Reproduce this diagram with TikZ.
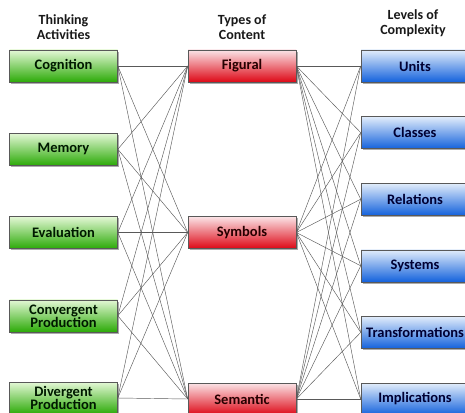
\documentclass[tikz,border=0pt]{standalone}
\usepackage{fontspec}
\setmainfont{Carlito}
\usetikzlibrary{shadows}

\definecolor{actTop}{HTML}{E4F8D6}
\definecolor{actMid}{HTML}{6FD842}
\definecolor{actBot}{HTML}{2CAA08}
\definecolor{conTop}{HTML}{FBE4E7}
\definecolor{conMid}{HTML}{F04A57}
\definecolor{conBot}{HTML}{DD0816}
\definecolor{levTop}{HTML}{E2EDFB}
\definecolor{levMid}{HTML}{5A98F0}
\definecolor{levBot}{HTML}{1462DC}

\begin{document}
\begin{tikzpicture}[
        x=1pt, y=-1pt,
        box/.style={rectangle, draw=black!65, line width=0.6pt, minimum width=108pt, minimum height=32pt,
            inner sep=0pt, align=center, font=\fontsize{14.5}{13}\selectfont\bfseries,
            drop shadow={shadow xshift=1.8pt, shadow yshift=-1.8pt, fill=black!60, opacity=0.55}},
        act/.style={box, top color=actTop, middle color=actMid, bottom color=actBot, text=black!90!green},
        con/.style={box, top color=conTop, middle color=conMid, bottom color=conBot, text=black!85!red},
        lev/.style={box, top color=levTop, middle color=levMid, bottom color=levBot, text=black!80!blue},
        head/.style={align=center, inner sep=0pt, font=\fontsize{14}{15}\selectfont\bfseries, text=black!90},
        edge/.style={draw, line width=0.45pt, black!65},
    ]
    \useasboundingbox (0,0) rectangle (465,412);

    % Headings
    \node[head] (hAct) at (63.5, 27) {Thinking\\Activities};
    \node[head] (hCon) at (242, 27) {Types of\\Content};
    \node[head] (hLev) at (413, 23) {Levels of\\Complexity};

    % === LEFT: thinking activities ===
    \node[act] (cog) at (63.5, 66) {Cognition};
    \node[act] (mem) at (63.5, 149.3) {Memory};
    \node[act] (eva) at (63.5, 232.5) {Evaluation};
    \node[act] (cnv) at (63.5, 315.8) {Convergent\\Production};
    \node[act] (dvg) at (63.5, 398) {Divergent\\Production};

    % === MIDDLE: types of content ===
    \node[con] (fig) at (242, 66) {Figural};
    \node[con] (sym) at (242, 232.5) {Symbols};
    \node[con] (sem) at (242, 399) {Semantic};

    % === RIGHT: levels of complexity ===
    \node[lev] (uni) at (415, 66) {Units};
    \node[lev] (cla) at (415, 132.6) {Classes};
    \node[lev] (rel) at (415, 199.2) {Relations};
    \node[lev] (sys) at (415, 265.8) {Systems};
    \node[lev] (tra) at (415, 332.4) {Transformations};
    \node[lev] (imp) at (415, 399) {Implications};

    % --- activities to content ---
    \draw[edge] (cog.east) -- (fig.west);
    \draw[edge] (cog.east) -- (sym.west);
    \draw[edge] (cog.east) -- (sem.west);
    \draw[edge] (mem.east) -- (fig.west);
    \draw[edge] (mem.east) -- (sym.west);
    \draw[edge] (mem.east) -- (sem.west);
    \draw[edge] (eva.east) -- (fig.west);
    \draw[edge] (eva.east) -- (sym.west);
    \draw[edge] (eva.east) -- (sem.west);
    \draw[edge] (cnv.east) -- (fig.west);
    \draw[edge] (cnv.east) -- (sym.west);
    \draw[edge] (cnv.east) -- (sem.west);
    \draw[edge] (dvg.east) -- (fig.west);
    \draw[edge] (dvg.east) -- (sym.west);
    \draw[edge] (dvg.east) -- (sem.west);

    % --- content to complexity ---
    \draw[edge] (fig.east) -- (uni.west);
    \draw[edge] (fig.east) -- (cla.west);
    \draw[edge] (fig.east) -- (rel.west);
    \draw[edge] (fig.east) -- (sys.west);
    \draw[edge] (fig.east) -- (tra.west);
    \draw[edge] (fig.east) -- (imp.west);
    \draw[edge] (sym.east) -- (uni.west);
    \draw[edge] (sym.east) -- (cla.west);
    \draw[edge] (sym.east) -- (rel.west);
    \draw[edge] (sym.east) -- (sys.west);
    \draw[edge] (sym.east) -- (tra.west);
    \draw[edge] (sym.east) -- (imp.west);
    \draw[edge] (sem.east) -- (uni.west);
    \draw[edge] (sem.east) -- (cla.west);
    \draw[edge] (sem.east) -- (rel.west);
    \draw[edge] (sem.east) -- (sys.west);
    \draw[edge] (sem.east) -- (tra.west);
    \draw[edge] (sem.east) -- (imp.west);

    \end{tikzpicture}
\end{document}
